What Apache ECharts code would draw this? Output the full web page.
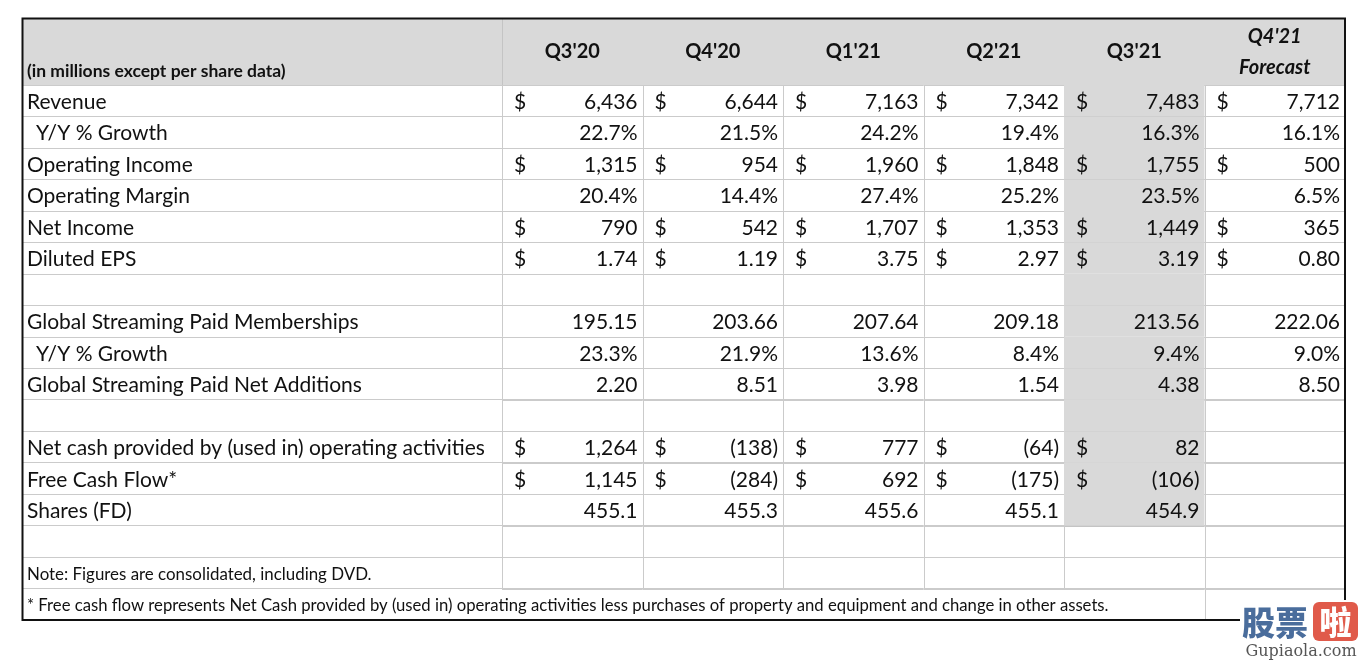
<!DOCTYPE html>
<html><head><meta charset="utf-8">
<script src="https://cdn.jsdelivr.net/npm/echarts@6/dist/echarts.min.js"></script>
<style>html,body{margin:0;padding:0;background:#fff}#c{width:1362px;height:660px}</style>
</head><body><div id="c"></div>
<script>
// ---------- data ----------
const quarters = ["Q3'20", "Q4'20", "Q1'21", "Q2'21", "Q3'21", "Q4'21 Forecast"];
const headerNote = "(in millions except per share data)";
const rowLabels = [
  "Revenue", "Y/Y % Growth", "Operating Income", "Operating Margin", "Net Income", "Diluted EPS", "",
  "Global Streaming Paid Memberships", "Y/Y % Growth", "Global Streaming Paid Net Additions", "",
  "Net cash provided by (used in) operating activities", "Free Cash Flow*", "Shares (FD)", "",
  "Note: Figures are consolidated, including DVD.",
  "* Free cash flow represents Net Cash provided by (used in) operating activities less purchases of property and equipment and change in other assets."
];
const revenue = [6436, 6644, 7163, 7342, 7483, 7712];
const revenueGrowth = [22.7, 21.5, 24.2, 19.4, 16.3, 16.1];
const operatingIncome = [1315, 954, 1960, 1848, 1755, 500];
const operatingMargin = [20.4, 14.4, 27.4, 25.2, 23.5, 6.5];
const netIncome = [790, 542, 1707, 1353, 1449, 365];
const dilutedEPS = [1.74, 1.19, 3.75, 2.97, 3.19, 0.80];
const paidMemberships = [195.15, 203.66, 207.64, 209.18, 213.56, 222.06];
const membershipGrowth = [23.3, 21.9, 13.6, 8.4, 9.4, 9.0];
const paidNetAdditions = [2.20, 8.51, 3.98, 1.54, 4.38, 8.50];
const netCashOperating = [1264, -138, 777, -64, 82, null];
const freeCashFlow = [1145, -284, 692, -175, -106, null];
const sharesFD = [455.1, 455.3, 455.6, 455.1, 454.9, null];
const highlightQuarter = "Q3'21";

// ---------- formatting ----------
const fmtInt = v => { const s = Math.abs(v).toLocaleString('en-US'); return v < 0 ? '(' + s + ')' : s; };
const fmtPct = v => v.toFixed(1) + '%';
const fmt2 = v => v.toFixed(2);
const fmt1 = v => v.toFixed(1);

const rowSpec = {
  "Revenue": [revenue, fmtInt, true],
  "Operating Income": [operatingIncome, fmtInt, true],
  "Operating Margin": [operatingMargin, fmtPct, false],
  "Net Income": [netIncome, fmtInt, true],
  "Diluted EPS": [dilutedEPS, fmt2, true],
  "Global Streaming Paid Memberships": [paidMemberships, fmt2, false],
  "Global Streaming Paid Net Additions": [paidNetAdditions, fmt2, false],
  "Net cash provided by (used in) operating activities": [netCashOperating, fmtInt, true],
  "Free Cash Flow*": [freeCashFlow, fmtInt, true],
  "Shares (FD)": [sharesFD, fmt1, false]
};
const growthRows = { 1: revenueGrowth, 8: membershipGrowth };
const lastDataRow = rowLabels.indexOf("Shares (FD)");
const noteRow = 15, footRow = 16;
const hiCol = quarters.indexOf(highlightQuarter);

const cells = [];
rowLabels.forEach((lab, r) => {
  quarters.forEach((q, c) => {
    let text = '', dollar = false;
    if (rowSpec[lab]) {
      const [arr, f, d] = rowSpec[lab];
      if (arr[c] != null) { text = f(arr[c]); dollar = d; }
    } else if (growthRows[r]) {
      text = fmtPct(growthRows[r][c]);
    }
    cells.push({ col: c, row: r, text, dollar, shade: c === hiCol && r <= lastDataRow });
  });
});

// ---------- chart ----------
const FONT = 'Lato, "Noto Sans", sans-serif';
const FS = 21;
const TXT = '#111';
const LINE = '#cbcbcb';
const chart = echarts.init(document.getElementById('c'), null, { renderer: 'canvas' });

const crisp = v => Math.round(v) + 0.5;

function renderCell(params, api) {
  const cell = cells[params.dataIndex];
  const ctr = api.coord([api.value(0), api.value(1)]);
  const sz = api.size([1, 1]);
  const w = sz[0], h = sz[1];
  const x0 = ctr[0] - w / 2, y0 = ctr[1] - h / 2;
  const ch = [];
  if (cell.shade) ch.push({ type: 'rect', shape: { x: x0, y: y0, width: w, height: h }, style: { fill: '#d9d9d9' } });
  ch.push({ type: 'line', shape: { x1: x0, y1: crisp(y0 + h), x2: x0 + w, y2: crisp(y0 + h) },
    style: { stroke: cell.shade ? '#c4c4c4' : LINE, lineWidth: 1 } });
  if (cell.row !== footRow || cell.col >= 4) {
    ch.push({ type: 'line', shape: { x1: crisp(x0 + w), y1: y0, x2: crisp(x0 + w), y2: y0 + h }, style: { stroke: LINE, lineWidth: 1 } });
  }
  if (cell.col === 0 && cell.row !== footRow) {
    ch.push({ type: 'line', shape: { x1: crisp(x0), y1: y0, x2: crisp(x0), y2: y0 + h }, style: { stroke: LINE, lineWidth: 1 } });
  }
  const ty = ctr[1] + 1.5;
  if (cell.dollar) ch.push({ type: 'text', style: { text: '$', x: x0 + 12, y: ty, align: 'left', verticalAlign: 'middle', font: FS + 'px ' + FONT, fill: TXT } });
  if (cell.text) ch.push({ type: 'text', style: { text: cell.text, x: x0 + w - 5, y: ty, align: 'right', verticalAlign: 'middle', font: FS + 'px ' + FONT, fill: TXT } });
  return { type: 'group', children: ch };
}

const option = {
  backgroundColor: '#fff',
  animation: false,
  grid: [
    { left: 22, top: 85, width: 480, height: 535, containLabel: false },
    { left: 502, top: 85, width: 843, height: 535, containLabel: false }
  ],
  xAxis: [
    { type: 'value', gridIndex: 0, min: 0, max: 1, interval: 1, position: 'top',
      axisLine: { show: false }, axisTick: { show: false }, splitLine: { show: false },
      axisLabel: { show: true, showMaxLabel: false, align: 'left', verticalAlign: 'middle', margin: 14,
        padding: [0, 0, 0, 5], fontFamily: FONT, fontWeight: 'bold', fontSize: 17.5, color: TXT,
        formatter: v => v === 0 ? headerNote : '' } },
    { type: 'category', gridIndex: 1, data: quarters, position: 'top',
      axisLine: { show: false }, axisTick: { show: false }, splitLine: { show: false },
      axisLabel: { interval: 0, verticalAlign: 'middle', margin: 33, color: TXT,
        fontFamily: FONT, fontWeight: 'bold', fontSize: 20, lineHeight: 31,
        formatter: v => v.indexOf('Forecast') >= 0 ? v.split(' ').map(s => '{f|' + s + '}').join('\n') : v,
        rich: { f: { fontFamily: FONT, fontWeight: 'bold', fontStyle: 'italic', fontSize: 20, lineHeight: 31, color: TXT } } } }
  ],
  yAxis: [
    { type: 'category', gridIndex: 0, inverse: true, data: rowLabels.map((l, i) => String(i)),
      axisLine: { show: false }, axisTick: { show: false },
      splitLine: { show: true, lineStyle: { color: LINE, width: 1 } },
      axisLabel: { inside: true, margin: 5, interval: 0, color: TXT, fontFamily: FONT, fontSize: FS,
        padding: [3, 0, 0, 0],
        formatter: (v, i) => {
          const lab = rowLabels[i];
          if (!lab) return '';
          if (i === noteRow) return '{n|' + lab + '}';
          if (i === footRow) return '{fn|' + lab + '}';
          if (growthRows[i]) return '{ind|' + lab + '}';
          return lab;
        },
        rich: {
          ind: { fontFamily: FONT, fontSize: FS, color: TXT, padding: [0, 0, 0, 9] },
          n: { fontFamily: FONT, fontSize: 16.9, color: TXT },
          fn: { fontFamily: FONT, fontSize: 16.7, color: TXT }
        } } },
    { type: 'category', gridIndex: 1, inverse: true, data: rowLabels.map((l, i) => String(i)),
      axisLine: { show: false }, axisTick: { show: false }, axisLabel: { show: false },
      splitLine: { show: true, lineStyle: { color: LINE, width: 1 } } }
  ],
  graphic: [
    { type: 'rect', z: -10, shape: { x: 22, y: 18, width: 1323, height: 67 }, style: { fill: '#d9d9d9' } },
    { type: 'line', z: -5, shape: { x1: 502.5, y1: 18, x2: 502.5, y2: 85 }, style: { stroke: '#c4c4c4', lineWidth: 1 } },
    { type: 'rect', z: 100, shape: { x: 22.5, y: 18.5, width: 1322.5, height: 601.5 }, style: { fill: 'none', stroke: '#111', lineWidth: 2 } },
    { type: 'rect', z: 101, shape: { x: 1240, y: 600, width: 122, height: 60 }, style: { fill: '#fff' } },
    { type: 'text', z: 102, style: { text: '股票', x: 1242, y: 622, verticalAlign: 'middle', font: '900 33px "Noto Sans CJK SC"', fill: '#4a6d9c' } },
    { type: 'rect', z: 102, shape: { x: 1313, y: 602, width: 45, height: 39, r: 6 }, style: { fill: '#e05a4a' } },
    { type: 'text', z: 103, style: { text: '啦', x: 1335.5, y: 622, align: 'center', verticalAlign: 'middle', font: '900 32px "Noto Sans CJK SC"', fill: '#fff' } },
    { type: 'text', z: 102, style: { text: 'Gupiaola.com', x: 1301, y: 652, align: 'center', verticalAlign: 'middle', font: '16px "DejaVu Serif"', fill: '#555' } }
  ],
  series: [
    { type: 'custom', xAxisIndex: 1, yAxisIndex: 1, renderItem: renderCell, clip: false,
      data: cells.map(c => [c.col, c.row]), encode: { x: 0, y: 1 }, silent: true }
  ]
};
chart.setOption(option);
</script></body></html>
